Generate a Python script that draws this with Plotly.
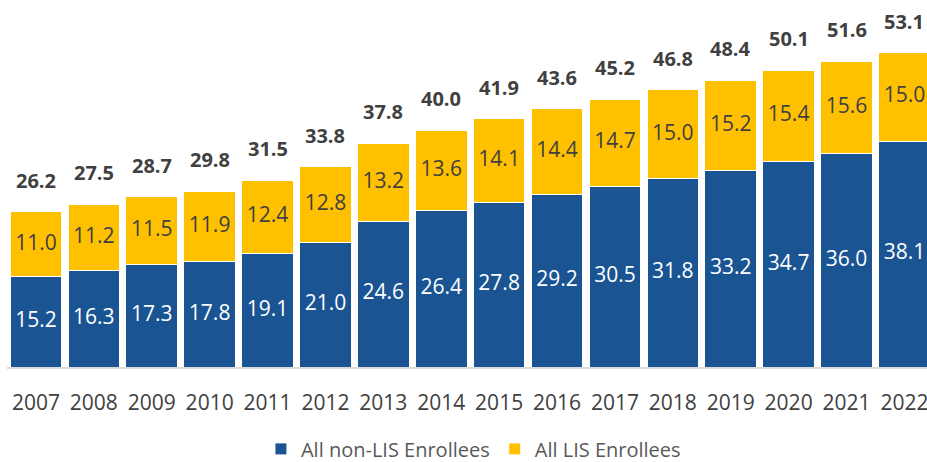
import plotly.graph_objects as go

years = [str(y) for y in range(2007, 2023)]
non_lis = [15.2, 16.3, 17.3, 17.8, 19.1, 21.0, 24.6, 26.4, 27.8, 29.2, 30.5, 31.8, 33.2, 34.7, 36.0, 38.1]
lis = [11.0, 11.2, 11.5, 11.9, 12.4, 12.8, 13.2, 13.6, 14.1, 14.4, 14.7, 15.0, 15.2, 15.4, 15.6, 15.0]
totals = [26.2, 27.5, 28.7, 29.8, 31.5, 33.8, 37.8, 40.0, 41.9, 43.6, 45.2, 46.8, 48.4, 50.1, 51.6, 53.1]

BLUE = "#1A5493"
YELLOW = "#FFC000"
FONT = "Open Sans"

fig = go.Figure()
fig.add_trace(go.Bar(x=years, y=non_lis, name="All non-LIS Enrollees",
                     marker=dict(color=BLUE, line=dict(color="white", width=1))))
fig.add_trace(go.Bar(x=years, y=lis, name="All LIS Enrollees",
                     marker=dict(color=YELLOW, line=dict(color="white", width=1))))

# segment labels placed at the middle of each stacked segment
fig.add_trace(go.Scatter(
    x=years, y=[v / 2 for v in non_lis], mode="text",
    text=[f"{v:.1f}" for v in non_lis], textposition="middle center",
    textfont=dict(family=FONT, size=21, color="white"),
    showlegend=False, hoverinfo="skip", cliponaxis=False))
fig.add_trace(go.Scatter(
    x=years, y=[a + b / 2 for a, b in zip(non_lis, lis)], mode="text",
    text=[f"{v:.1f}" for v in lis], textposition="middle center",
    textfont=dict(family=FONT, size=21, color="#404040"),
    showlegend=False, hoverinfo="skip", cliponaxis=False))

# totals above each stack (x given as category index)
for i, t in enumerate(totals):
    fig.add_annotation(x=i, y=t, xref="x", yref="y", text=f"<b>{t:.1f}</b>",
                       showarrow=False, yanchor="bottom", yshift=16,
                       font=dict(family=FONT, size=20, color="#404040"))

fig.update_layout(
    barmode="stack", bargap=0.11,
    width=927, height=462,
    margin=dict(l=7, r=0, t=20, b=95, autoexpand=False),
    plot_bgcolor="white", paper_bgcolor="white",
    legend=dict(orientation="h", x=0.507, xanchor="center", y=-0.236, yanchor="middle",
                font=dict(family=FONT, size=20, color="#595959"),
                traceorder="normal"),
    showlegend=True,
)
fig.update_xaxes(type="category", range=[-0.5, 15.39], showline=True, automargin=False,
                 linecolor="#D9D9D9", linewidth=1.5,
                 tickfont=dict(family=FONT, size=21, color="#404040"),
                 ticks="", ticklabelstandoff=16)
fig.update_yaxes(range=[0, 58.6], visible=False, showgrid=False, automargin=False)

fig.write_html("out.html", config={"displayModeBar": False},
               post_script="document.body.style.margin='0';document.body.style.overflow='hidden';")
